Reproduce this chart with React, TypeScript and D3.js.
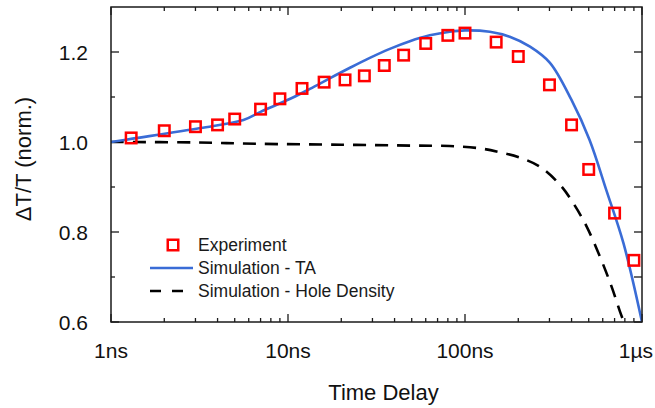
import React from "react";
import * as d3 from "d3";

const expTime = [1.3, 2, 3, 4, 5, 7, 9, 12, 16, 21, 27, 35, 45, 60, 80, 100, 150, 200, 300, 400, 500, 700, 900];
const expValue = [1.009, 1.025, 1.034, 1.038, 1.051, 1.073, 1.096, 1.119, 1.133, 1.138, 1.147, 1.17, 1.193, 1.219, 1.237, 1.242, 1.222, 1.19, 1.127, 1.038, 0.939, 0.842, 0.737];

const taTime = [1, 1.3, 3.2, 5.6, 7, 10.3, 13.3, 17.3, 22.4, 29, 37.6, 48.8, 63.2, 82, 100, 138, 179, 233, 302, 399, 505, 630, 787, 1000];
const taValue = [1.0, 1.007, 1.031, 1.049, 1.067, 1.096, 1.118, 1.142, 1.165, 1.187, 1.207, 1.224, 1.237, 1.245, 1.248, 1.245, 1.234, 1.212, 1.176, 1.094, 1.005, 0.892, 0.774, 0.6];

const holeTime = [1, 3, 6.7, 20, 50, 82, 121, 158, 205, 265, 344, 409, 487, 579, 674, 751, 790];
const holeValue = [1.0, 0.999, 0.996, 0.994, 0.992, 0.991, 0.986, 0.977, 0.965, 0.945, 0.905, 0.864, 0.812, 0.745, 0.678, 0.623, 0.6];

const xMajorTicks = [1, 10, 100, 1000];
const xTickLabels = ["1ns", "10ns", "100ns", "1µs"];
const yMajorTicks = [0.6, 0.8, 1.0, 1.2];
const yMinorTicks = [0.7, 0.9, 1.1];
const legendLabels = ["Experiment", "Simulation - TA", "Simulation - Hole Density"];

const W = 655;
const H = 408;
const M = { left: 111, right: 13, top: 7, bottom: 86 };
const FONT = "'Liberation Sans', Arial, Helvetica, sans-serif";
const BLUE = "#3a6cd6";
const RED = "#ff0000";
const AX = "#1a1a1a";

export default function App() {
  const x = d3.scaleLog().domain([1, 1000]).range([M.left, W - M.right]);
  const y = d3.scaleLinear().domain([0.6, 1.3]).range([H - M.bottom, M.top]);
  const x0 = M.left, x1 = W - M.right, y0 = H - M.bottom, y1 = M.top;

  const xMinor: number[] = [];
  for (const dec of [1, 10, 100]) for (let k = 2; k <= 9; k++) xMinor.push(dec * k);

  const line = d3.line<[number, number]>().x(d => x(d[0])).y(d => y(d[1])).curve(d3.curveCatmullRom.alpha(0.5));
  const taPath = line(taTime.map((t, i) => [t, taValue[i]]) as [number, number][]) || "";
  const holePath = line(holeTime.map((t, i) => [t, holeValue[i]]) as [number, number][]) || "";

  const sq = 10.5;
  const legX = 150, legY = 245, legDy = 23;

  return (
    <svg width={W} height={H} style={{ position: "absolute", left: 0, top: 0, background: "#fff" }} fontFamily={FONT}>
      <defs>
        <clipPath id="plotclip">
          <rect x={x0} y={y1} width={x1 - x0} height={y0 - y1} />
        </clipPath>
      </defs>

      {/* ticks */}
      <g stroke={AX} strokeWidth={1.3}>
        {xMajorTicks.map(t => (
          <g key={"xm" + t}>
            <line x1={x(t)} x2={x(t)} y1={y0} y2={y0 - 8} />
            <line x1={x(t)} x2={x(t)} y1={y1} y2={y1 + 8} />
          </g>
        ))}
        {xMinor.map(t => (
          <g key={"xn" + t}>
            <line x1={x(t)} x2={x(t)} y1={y0} y2={y0 - 4} />
            <line x1={x(t)} x2={x(t)} y1={y1} y2={y1 + 4} />
          </g>
        ))}
        {yMajorTicks.map(v => (
          <g key={"ym" + v}>
            <line x1={x0} x2={x0 + 8} y1={y(v)} y2={y(v)} />
            <line x1={x1} x2={x1 - 8} y1={y(v)} y2={y(v)} />
          </g>
        ))}
        {yMinorTicks.map(v => (
          <g key={"yn" + v}>
            <line x1={x0} x2={x0 + 4} y1={y(v)} y2={y(v)} />
            <line x1={x1} x2={x1 - 8} y1={y(v)} y2={y(v)} />
          </g>
        ))}
      </g>

      {/* curves */}
      <g clipPath="url(#plotclip)" fill="none">
        <path d={holePath} stroke="#000" strokeWidth={2.6} strokeDasharray="13 9" />
        <path d={taPath} stroke={BLUE} strokeWidth={2.6} />
      </g>

      {/* experiment */}
      <g fill="none" stroke={RED} strokeWidth={2.5}>
        {expTime.map((t, i) => (
          <rect key={i} x={x(t) - sq / 2} y={y(expValue[i]) - sq / 2} width={sq} height={sq} />
        ))}
      </g>

      {/* frame */}
      <rect x={x0} y={y1} width={x1 - x0} height={y0 - y1} fill="none" stroke={AX} strokeWidth={1.5} />

      {/* tick labels */}
      <g fontSize={21} fill="#111">
        {yMajorTicks.map(v => (
          <text key={"yl" + v} x={88} y={y(v) + 8} textAnchor="end">{v.toFixed(1)}</text>
        ))}
        {xMajorTicks.map((t, i) => (
          <text key={"xl" + t} x={i === xMajorTicks.length - 1 ? 653 : x(t)} y={358}
            textAnchor={i === xMajorTicks.length - 1 ? "end" : "middle"}>{xTickLabels[i]}</text>
        ))}
      </g>

      {/* axis titles */}
      <text x={(x0 + x1) / 2 + 7} y={400} fontSize={22} textAnchor="middle" fill="#111">Time Delay</text>
      <text transform={`translate(31,159) rotate(-90)`} fontSize={22} textAnchor="middle" fill="#111">ΔT/T (norm.)</text>

      {/* legend */}
      <g fontSize={17.5} fill="#1a1a1a">
        <rect x={legX + 23 - sq / 2} y={legY - sq / 2} width={sq} height={sq} fill="none" stroke={RED} strokeWidth={2.5} />
        <text x={198} y={legY + 6}>{legendLabels[0]}</text>
        <line x1={legX} x2={legX + 43} y1={legY + legDy} y2={legY + legDy} stroke={BLUE} strokeWidth={2.6} />
        <text x={198} y={legY + legDy + 6}>{legendLabels[1]}</text>
        <line x1={legX} x2={legX + 43} y1={legY + 2 * legDy} y2={legY + 2 * legDy} stroke="#000" strokeWidth={2.6} strokeDasharray="11 11" />
        <text x={198} y={legY + 2 * legDy + 6}>{legendLabels[2]}</text>
      </g>
    </svg>
  );
}
